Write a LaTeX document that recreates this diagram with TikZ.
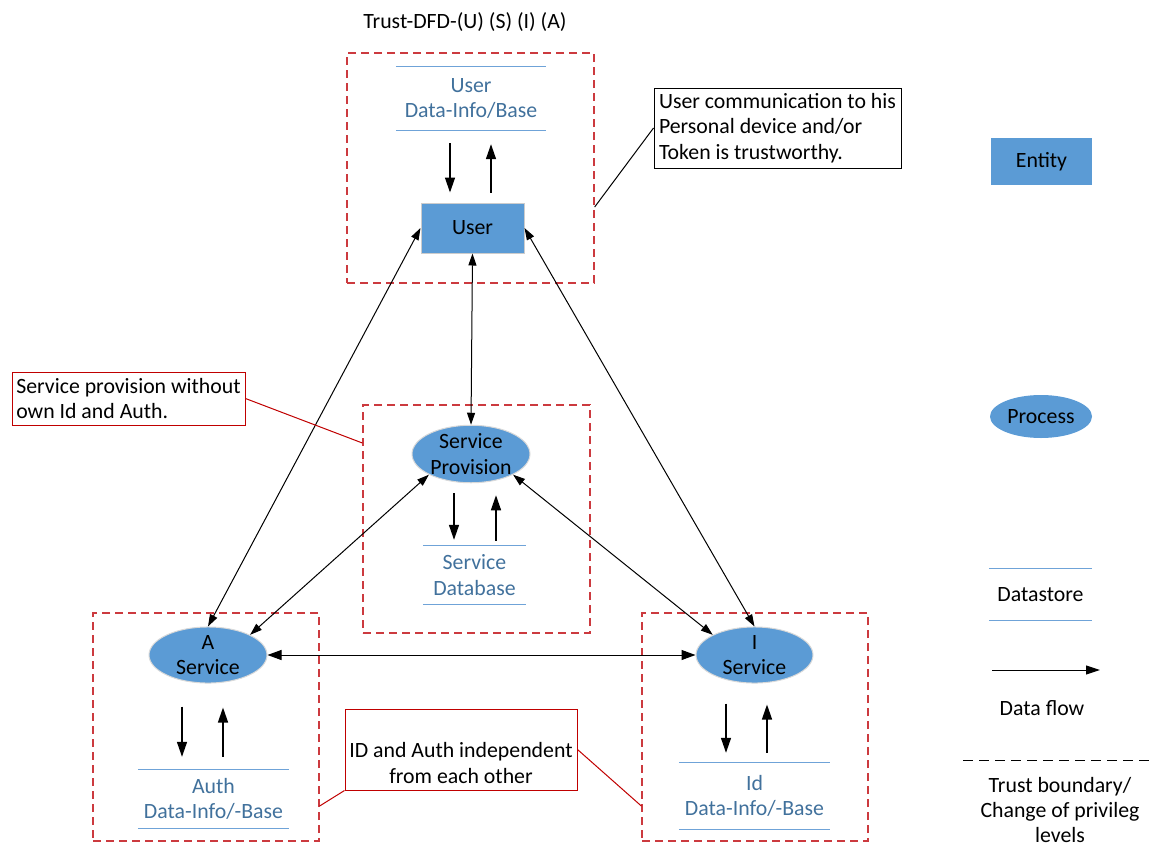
\documentclass[tikz,border=0pt]{standalone}
\usepackage{fontspec}
\setmainfont{Carlito}
\usepackage{tikz}
\usetikzlibrary{arrows.meta, positioning, shapes.geometric}
\tikzset{every node/.style={font=\fontsize{21.8}{25.5}\selectfont}}
\usepackage{xcolor}
\definecolor{entblue}{HTML}{5B9BD5}
\definecolor{dstext}{HTML}{41719C}
\definecolor{dsline}{HTML}{6FA3D8}
\definecolor{tbred}{HTML}{CC3A3F}
\definecolor{notered}{HTML}{C00000}

\begin{document}
\begin{tikzpicture}[
        x=1pt, y=-1pt,
        flow/.style={-{Triangle[length=15pt, width=10pt]}, line width=1.4pt},
        link/.style={{Triangle[length=12pt, width=8pt]}-{Triangle[length=12pt, width=8pt]}, line width=1pt},
        entity/.style={rectangle, fill=entblue, draw=black!20, line width=1pt, inner sep=0pt},
        process/.style={ellipse, fill=entblue, draw=black!15, line width=1pt, inner sep=0pt, align=center},
        datastore/.style={rectangle, inner sep=0pt, align=center, text=dstext,
            append after command={(\tikzlastnode.north west) edge[draw=dsline, line width=1pt] (\tikzlastnode.north east)
                                  (\tikzlastnode.south west) edge[draw=dsline, line width=1pt] (\tikzlastnode.south east)}},
        boundary/.style={rectangle, draw=tbred, dash pattern=on 8pt off 5pt, line width=1.3pt, inner sep=0pt},
        note/.style={rectangle, draw=black, line width=1pt, inner xsep=3pt, inner ysep=0pt},
        rednote/.style={note, draw=notered},
      ]
        \useasboundingbox (0,0) rectangle (1152,844);

        % trust boundaries
        \node[boundary, minimum width=247pt, minimum height=230pt] (tbUser) at (470.5,168) {};
        \node[boundary, minimum width=227pt, minimum height=228pt] (tbSP) at (476.5,519) {};
        \node[boundary, minimum width=226pt, minimum height=228pt] (tbA) at (206,727) {};
        \node[boundary, minimum width=226pt, minimum height=228pt] (tbI) at (755,727) {};

        \node (title) at (465,22) {Trust-DFD-(U) (S) (I) (A)};

        % user
        \node[datastore, minimum width=150pt, minimum height=63pt] (udb) at (471,98.5) {User\\Data-Info/Base};
        \node[entity, minimum width=103pt, minimum height=50pt] (user) at (472.5,228) {User};
        \draw[flow] ([xshift=-21pt, yshift=-13pt]udb.south) -- ([xshift=-22.5pt, yshift=10pt]user.north);
        \draw[flow] ([xshift=18.5pt, yshift=10pt]user.north) -- ([xshift=20pt, yshift=-14pt]udb.south);

        % service provision
        \node[process, minimum width=118pt, minimum height=52pt] (sp) at (471,454) {Service\\Provision};
        \node[datastore, minimum width=103pt, minimum height=58pt] (sdb) at (474.5,575) {Service\\Database};
        \draw[flow] ([xshift=-17pt, yshift=-10pt]sp.south) -- ([xshift=-20.5pt, yshift=6pt]sdb.north);
        \draw[flow] ([xshift=21.5pt, yshift=5pt]sdb.north) -- ([xshift=25pt, yshift=-12pt]sp.south);

        % A service
        \node[process, minimum width=118pt, minimum height=56pt] (aSrv) at (208,655) {A\\Service};
        \node[datastore, minimum width=151pt, minimum height=58pt] (auth) at (213.5,799) {Auth\\Data-Info/-Base};
        \draw[flow] ([xshift=-26pt, yshift=-23pt]aSrv.south) -- ([xshift=-31.5pt, yshift=13pt]auth.north);
        \draw[flow] ([xshift=9.5pt, yshift=13pt]auth.north) -- ([xshift=15pt, yshift=-24pt]aSrv.south);

        % I service
        \node[process, minimum width=117pt, minimum height=54pt] (iSrv) at (754.5,655) {I\\Service};
        \node[datastore, minimum width=151pt, minimum height=66pt] (id) at (754.5,796) {Id\\Data-Info/-Base};
        \draw[flow] ([xshift=-28.5pt, yshift=-20pt]iSrv.south) -- ([xshift=-28.5pt, yshift=10pt]id.north);
        \draw[flow] ([xshift=12.5pt, yshift=10pt]id.north) -- ([xshift=12.5pt, yshift=-21pt]iSrv.south);

        % data flows
        \draw[link] (user.west) -- (aSrv.north);
        \draw[link] (user.south) -- (sp.north);
        \draw[link] (user.east) -- (iSrv.north);
        \draw[link] (sp.south west) -- (aSrv.north east);
        \draw[link] (sp.south east) -- (iSrv.north west);
        \draw[link, {Triangle[length=14pt, width=10pt]}-{Triangle[length=14pt, width=10pt]}] (aSrv.east) -- (iSrv.west);

        % notes
        \node[note, minimum width=247pt, minimum height=80pt, align=left] (noteUser) at (777.5,128) {User communication to his\\Personal device and/or\\Token is trustworthy.};
        \draw[line width=1pt] (noteUser.west) -- ([yshift=-39pt]tbUser.east);
        \node[rednote, minimum width=233pt, minimum height=53pt, align=left] (noteSP) at (128.5,398.5) {Service provision without\\own Id and Auth.};
        \draw[notered, line width=1pt] (noteSP.east) -- ([yshift=76pt]tbSP.west);
        \node[rednote, minimum width=232pt, minimum height=81pt] (noteID) at (461,749.5) {};
        \node[align=center] (noteIDtext) at (461,763) {ID and Auth independent\\from each other};
        \draw[notered, line width=1pt] (noteID.south west) -- ([yshift=-79pt]tbA.east);
        \draw[notered, line width=1pt] (noteID.east) -- ([yshift=-79pt]tbI.west);

        % legend
        \node[entity, draw=none, minimum width=101pt, minimum height=47pt] (lgEntity) at (1041.5,161.5) {Entity};
        \node[process, draw=none, minimum width=102pt, minimum height=43pt] (lgProcess) at (1041,416.5) {Process};
        \node[datastore, text=black, minimum width=103pt, minimum height=51pt] (lgStore) at (1040.5,594.5) {Datastore};
        \coordinate (lgFlowA) at (992,670);
        \coordinate (lgFlowB) at (1100,670);
        \draw[-{Triangle[length=14pt, width=9pt]}, line width=1pt] (lgFlowA) -- (lgFlowB);
        \node (lgFlow) at (1042,708) {Data flow};
        \coordinate (lgTbA) at (963,760);
        \coordinate (lgTbB) at (1152,760);
        \draw[dash pattern=on 10pt off 6pt, line width=1pt] (lgTbA) -- (lgTbB);
        \node[align=center] (lgTb) at (1060,810) {Trust boundary/\\Change of privileg\\levels};
      \end{tikzpicture}
\end{document}
